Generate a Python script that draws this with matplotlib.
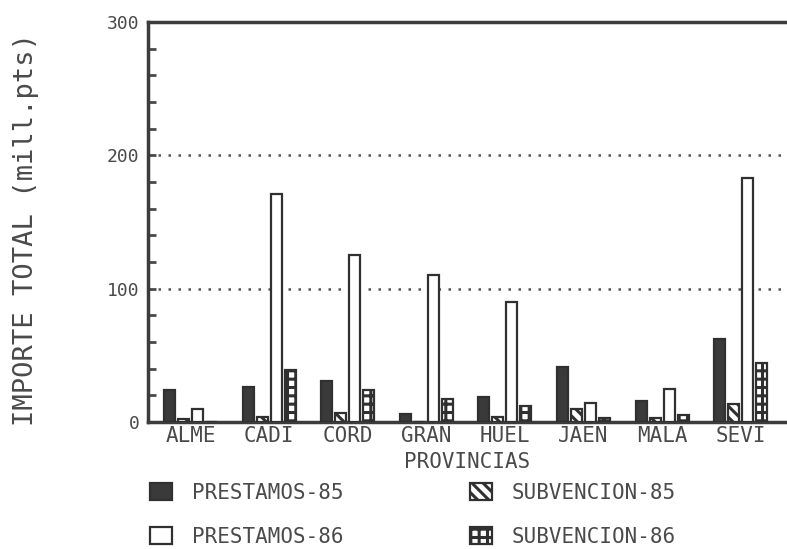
import matplotlib.pyplot as plt
import numpy as np

# Données
provincias = ["ALME", "CADI", "CORD", "GRAN", "HUEL", "JAEN", "MALA", "SEVI"]
prestamos_85 = [24, 26, 31, 6, 19, 41, 16, 62]
subvencion_85 = [2.5, 4, 6.5, 0, 3.5, 10, 2.7, 13.5]
prestamos_86 = [9.5, 171, 125.5, 110, 90, 14, 24.5, 183]
subvencion_86 = [0, 39, 24, 17, 12, 3.2, 5, 44]
yticks = [0, 100, 200, 300]

gris = "#4a4a4a"
font = "DejaVu Sans Mono"
plt.rcParams['hatch.linewidth'] = 2.2

fig = plt.figure(figsize=(7.87, 5.49), dpi=100)
ax = fig.add_axes([148 / 787, 1 - 422 / 549, 1 - 148 / 787, 400 / 549])

x = np.arange(len(provincias))
w = 0.14
step = 0.178
series = [
    (prestamos_85, "PRESTAMOS-85", dict(color="#3a3a3a", edgecolor="#303030")),
    (subvencion_85, "SUBVENCION-85", dict(color="white", edgecolor="#303030", hatch="\\\\\\")),
    (prestamos_86, "PRESTAMOS-86", dict(color="white", edgecolor="#303030")),
    (subvencion_86, "SUBVENCION-86", dict(color="white", edgecolor="#303030", hatch="++")),
]
handles = []
for i, (vals, lab, style) in enumerate(series):
    b = ax.bar(x + (i - 1.5) * step, vals, w, label=lab, linewidth=1.6, zorder=3, **style)
    handles.append(b)

ax.set_xlim(-0.54, 7.59)
ax.set_ylim(0, 300)
ax.set_yticks(yticks)
ax.set_yticklabels([str(t) for t in yticks], fontfamily=font, fontsize=13, color=gris)
ax.set_yticks(np.arange(0, 301, 20), minor=True)
ax.tick_params(axis='y', which='both', direction='in', length=6, width=2, color=gris, pad=6)
ax.set_xticks(x)
ax.set_xticklabels(provincias, fontfamily=font, fontsize=15, color=gris)
ax.tick_params(axis='x', length=0, pad=3)
ax.set_xlabel("PROVINCIAS", fontfamily=font, fontsize=15, color=gris, labelpad=4)

for y in [100, 200]:
    ax.axhline(y, color="#555555", linewidth=1.8, linestyle=(0, (1, 3)), zorder=1)

for s in ["left", "top", "bottom"]:
    ax.spines[s].set_linewidth(2.5)
    ax.spines[s].set_color("#3c3c3c")
ax.spines["right"].set_visible(False)

fig.text(26 / 787, 1 - 230 / 549, "IMPORTE TOTAL (mill.pts)", rotation=90,
         ha="center", va="center", fontfamily=font, fontsize=19.5, color=gris)

order = [handles[0], handles[2], handles[1], handles[3]]
leg = fig.legend(order, [h.get_label() for h in order], ncol=2, loc="upper left",
                 bbox_to_anchor=(150 / 787, 1 - 483 / 549), frameon=False, borderpad=0,
                 borderaxespad=0,
                 prop={'family': font, 'size': 15}, handlelength=1.05, handleheight=0.9,
                 handletextpad=0.95, columnspacing=6.1, labelspacing=1.15)
for t in leg.get_texts():
    t.set_color(gris)

fig.savefig("out.png", dpi=100)
